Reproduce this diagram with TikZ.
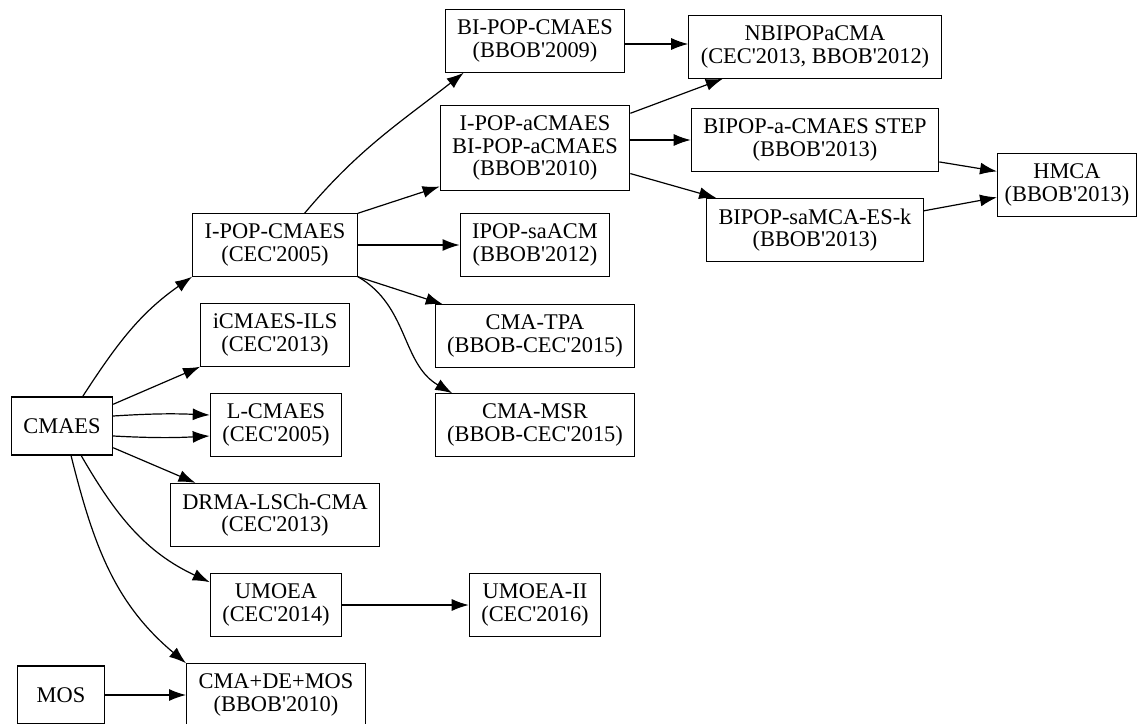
\documentclass[tikz,border=0pt]{standalone}
\usepackage{fontspec}
\setmainfont{Liberation Serif}[Ligatures=TeXOff]
\usetikzlibrary{arrows.meta}

\begin{document}
\begin{tikzpicture}[x=0.5pt,y=0.5pt,
	algo/.style={draw,line width=0.6pt,align=center,inner xsep=6pt,inner ysep=5pt,
		minimum width=43.5pt,minimum height=29pt,font=\fontsize{11.2}{11.35}\selectfont},
	link/.style={line width=0.6pt,-{Latex[length=8.5pt,width=6pt]}}]
	\useasboundingbox (0,-724) rectangle (1137,0);

	\node[algo] (cmaes) at (62,-426) {CMAES};
	\node[algo] (mos) at (61,-695) {MOS};
	\node[algo] (ipop) at (275,-245) {I-POP-CMAES\\(CEC'2005)};
	\node[algo] (icmaes) at (275,-335) {iCMAES-ILS\\(CEC'2013)};
	\node[algo] (lcmaes) at (276,-425) {L-CMAES\\(CEC'2005)};
	\node[algo] (drma) at (275,-515) {DRMA-LSCh-CMA\\(CEC'2013)};
	\node[algo] (umoea) at (276,-605) {UMOEA\\(CEC'2014)};
	\node[algo] (cmademos) at (276,-695) {CMA+DE+MOS\\(BBOB'2010)};
	\node[algo] (bipop) at (535,-41) {BI-POP-CMAES\\(BBOB'2009)};
	\node[algo] (ipopa) at (535,-148) {I-POP-aCMAES\\BI-POP-aCMAES\\(BBOB'2010)};
	\node[algo] (ipopsa) at (535,-245) {IPOP-saACM\\(BBOB'2012)};
	\node[algo] (cmatpa) at (535,-336) {CMA-TPA\\(BBOB-CEC'2015)};
	\node[algo] (cmamsr) at (535,-425) {CMA-MSR\\(BBOB-CEC'2015)};
	\node[algo] (umoea2) at (535,-605) {UMOEA-II\\(CEC'2016)};
	\node[algo] (nbipop) at (815,-47) {NBIPOPaCMA\\(CEC'2013, BBOB'2012)};
	\node[algo] (bipopstep) at (815,-140) {BIPOP-a-CMAES STEP\\(BBOB'2013)};
	\node[algo] (bipopsamca) at (815,-230) {BIPOP-saMCA-ES-k\\(BBOB'2013)};
	\node[algo,inner xsep=3.5pt] (hmca) at (1067,-185) {HMCA\\(BBOB'2013)};

	\draw[link] (cmaes.55) to[out=57,in=215] (ipop.south west);
	\draw[link] (cmaes.23) -- (icmaes.south west);
	\draw[link] ([yshift=5pt]cmaes.east) to[bend left=3] ([yshift=5pt]lcmaes.west);
	\draw[link] ([yshift=-5pt]cmaes.east) to[bend right=3] ([yshift=-5.5pt]lcmaes.west);
	\draw[link] (cmaes.-23) -- (drma.158);
	\draw[link] (cmaes.-57) to[out=-60,in=155] (umoea.161);
	\draw[link] (cmaes.-73) to[out=-76,in=140] (cmademos.north west);
	\draw[link] (mos) -- (cmademos);
	\draw[link] (ipop.47) to[out=50,in=218] (bipop.204);
	\draw[link] (ipop.north east) -- (ipopa.202);
	\draw[link] (ipop) -- (ipopsa);
	\draw[link] (ipop.south east) -- (cmatpa.161);
	\draw[link] (ipop.south east) to[out=-30,in=150] (cmamsr.159);
	\draw[link] (umoea) -- (umoea2);
	\draw[link] ([yshift=-1.5pt]bipop.east) -- ([yshift=-1.5pt]bipop.east -| nbipop.west);
	\draw[link] (ipopa.20) -- (nbipop.199);
	\draw[link] (ipopa.east |- bipopstep.west) -- (bipopstep.west);
	\draw[link] (ipopa.-15) -- (bipopsamca.162);
	\draw[link] (bipopstep.-10) -- (hmca.169);
	\draw[link] (bipopsamca.10) -- (hmca.190);
\end{tikzpicture}
\end{document}
